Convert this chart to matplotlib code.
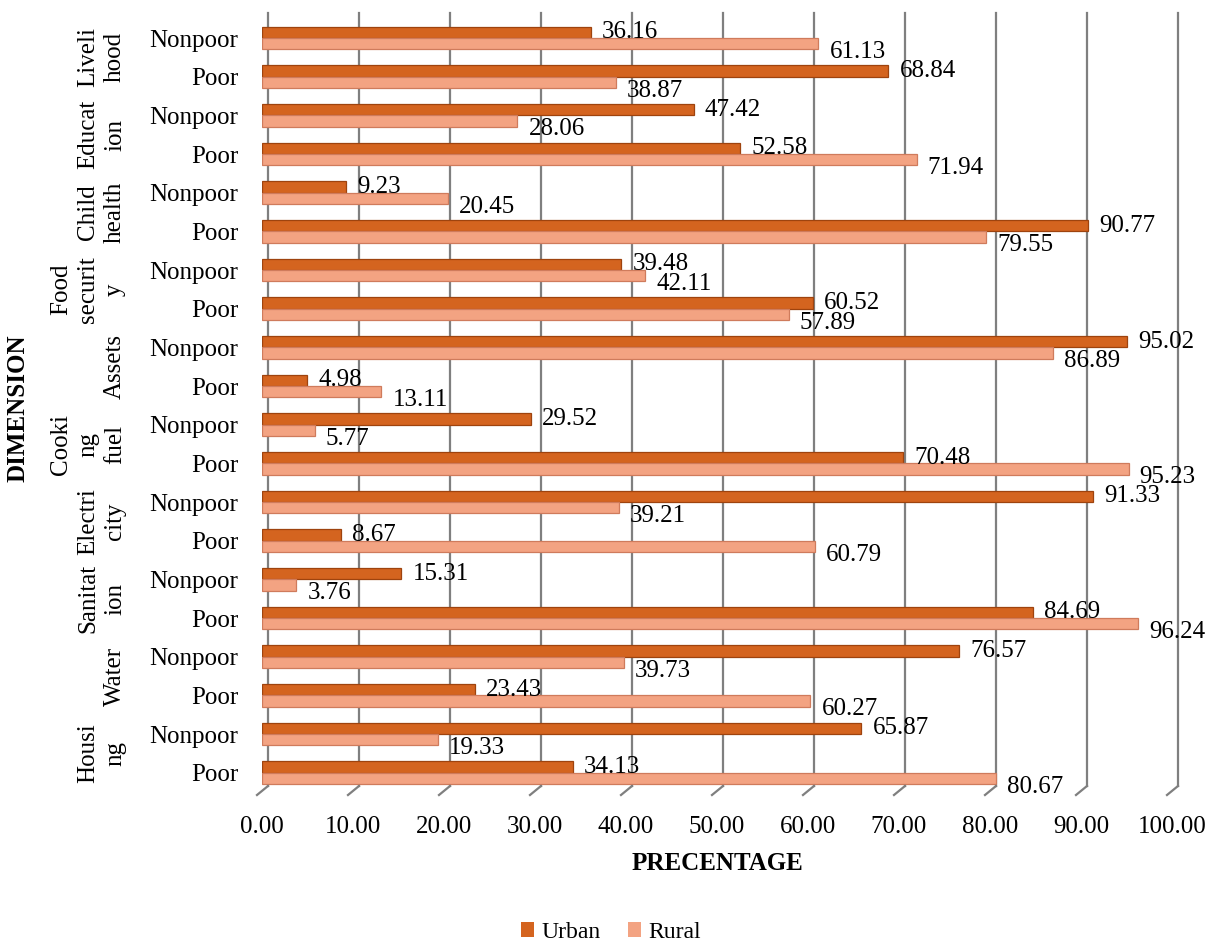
import numpy as np
import matplotlib
matplotlib.use("Agg")
import matplotlib.pyplot as plt
from matplotlib.transforms import ScaledTranslation
from matplotlib.patches import Patch

# -------- Data (bottom row first) --------
dimensions = ["Housi\nng", "Water", "Sanitat\nion", "Electri\ncity", "Cooki\nng\nfuel",
              "Assets", "Food\nsecurit\ny", "Child\nhealth", "Educat\nion", "Liveli\nhood"]
groups = ["Poor", "Nonpoor"]

urban = [34.13, 65.87,   # Housing
         23.43, 76.57,   # Water
         84.69, 15.31,   # Sanitation
         8.67, 91.33,    # Electricity
         70.48, 29.52,   # Cooking fuel
         4.98, 95.02,    # Assets
         60.52, 39.48,   # Food security
         90.77, 9.23,    # Child health
         52.58, 47.42,   # Education
         68.84, 36.16]   # Livelihood

rural = [80.67, 19.33,
         60.27, 39.73,
         96.24, 3.76,
         60.79, 39.21,
         95.23, 5.77,
         13.11, 86.89,
         57.89, 42.11,
         79.55, 20.45,
         71.94, 28.06,
         38.87, 61.13]

xticks = np.arange(0, 101, 10)

# -------- Style --------
plt.rcParams["font.family"] = ["Liberation Serif", "DejaVu Serif"]
URBAN_COLOR = "#D4641F"
URBAN_EDGE = "#9E430E"
RURAL_COLOR = "#F3A382"
RURAL_EDGE = "#CF7B5C"
GRID_COLOR = "#7F7F7F"
FS = 18

fig = plt.figure(figsize=(12.1, 9.47), dpi=100)
ax = fig.add_axes([262 / 1210, 1 - 792 / 947, 910 / 1210, (792 - 18.7) / 947])

n = len(urban)
y = np.arange(n)
bh = 0.29

ax.barh(y + bh / 2, urban, height=bh, color=URBAN_COLOR, edgecolor=URBAN_EDGE,
        linewidth=0.9, zorder=3, label="Urban")
ax.barh(y - bh / 2, rural, height=bh, color=RURAL_COLOR, edgecolor=RURAL_EDGE,
        linewidth=0.9, zorder=3, label="Rural")

# value labels just past the bar ends
for yi, val in zip(y, urban):
    ax.annotate(f"{val:.2f}", (val, yi + bh / 2), xytext=(8, 0), textcoords="offset points",
                ha="left", va="center", fontsize=FS, zorder=5, annotation_clip=False)
for yi, val in zip(y, rural):
    ax.annotate(f"{val:.2f}", (val, yi - bh / 2), xytext=(8, -6), textcoords="offset points",
                ha="left", va="center", fontsize=FS, zorder=5, annotation_clip=False)

ax.set_xlim(0, 100)
ax.set_ylim(-0.5, n - 0.5)

# back-wall gridlines, shifted for a 3D look, with slanted floor ticks
px = lambda dx, dy: ScaledTranslation(dx / 100, dy / 100, fig.dpi_scale_trans)
xtr = ax.get_xaxis_transform()
for xv in xticks:
    ax.plot([xv, xv], [0, 1], transform=xtr + px(6, 6),
            color=GRID_COLOR, lw=1.6, zorder=1, clip_on=False)
    p0 = (xtr + px(-5, -3)).transform((xv, 0))
    p1 = (xtr + px(6, 6)).transform((xv, 0))
    fig.add_artist(plt.Line2D([p0[0] / fig.bbox.width, p1[0] / fig.bbox.width],
                              [p0[1] / fig.bbox.height, p1[1] / fig.bbox.height],
                              transform=fig.transFigure, color=GRID_COLOR, lw=1.6))

for s in ax.spines.values():
    s.set_visible(False)

ax.set_xticks(xticks)
ax.set_xticklabels([f"{v:.2f}" for v in xticks], fontsize=FS)
ax.tick_params(axis="x", length=0, pad=17)

ax.set_yticks(y)
ax.set_yticklabels([groups[i % 2] for i in range(n)], fontsize=FS)
ax.tick_params(axis="y", length=0, pad=17)

# outer category labels (rotated dimension names)
ytrans = ax.get_yaxis_transform()
for k, name in enumerate(dimensions):
    ax.text(-136 / 910, 2 * k + 0.5, name, transform=ytrans, rotation=90,
            ha="right", va="center", multialignment="center", fontsize=FS,
            linespacing=1.3)

ax.set_xlabel("PRECENTAGE", fontsize=FS, fontweight="bold", labelpad=10)
fig.text(18 / 1210, 1 - 408 / 947, "DIMENSION", rotation=90, ha="center", va="center",
         fontsize=FS, fontweight="bold")

handles = [Patch(facecolor=URBAN_COLOR, edgecolor="none", label="Urban"),
           Patch(facecolor=RURAL_COLOR, edgecolor="none", label="Rural")]
fig.legend(handles=handles, loc="lower center", bbox_to_anchor=(0.505, -0.018), ncol=2,
           frameon=False, fontsize=FS - 1, handlelength=0.55, handleheight=0.55,
           handletextpad=0.3, columnspacing=1.2)

fig.savefig("out.png", dpi=100)
